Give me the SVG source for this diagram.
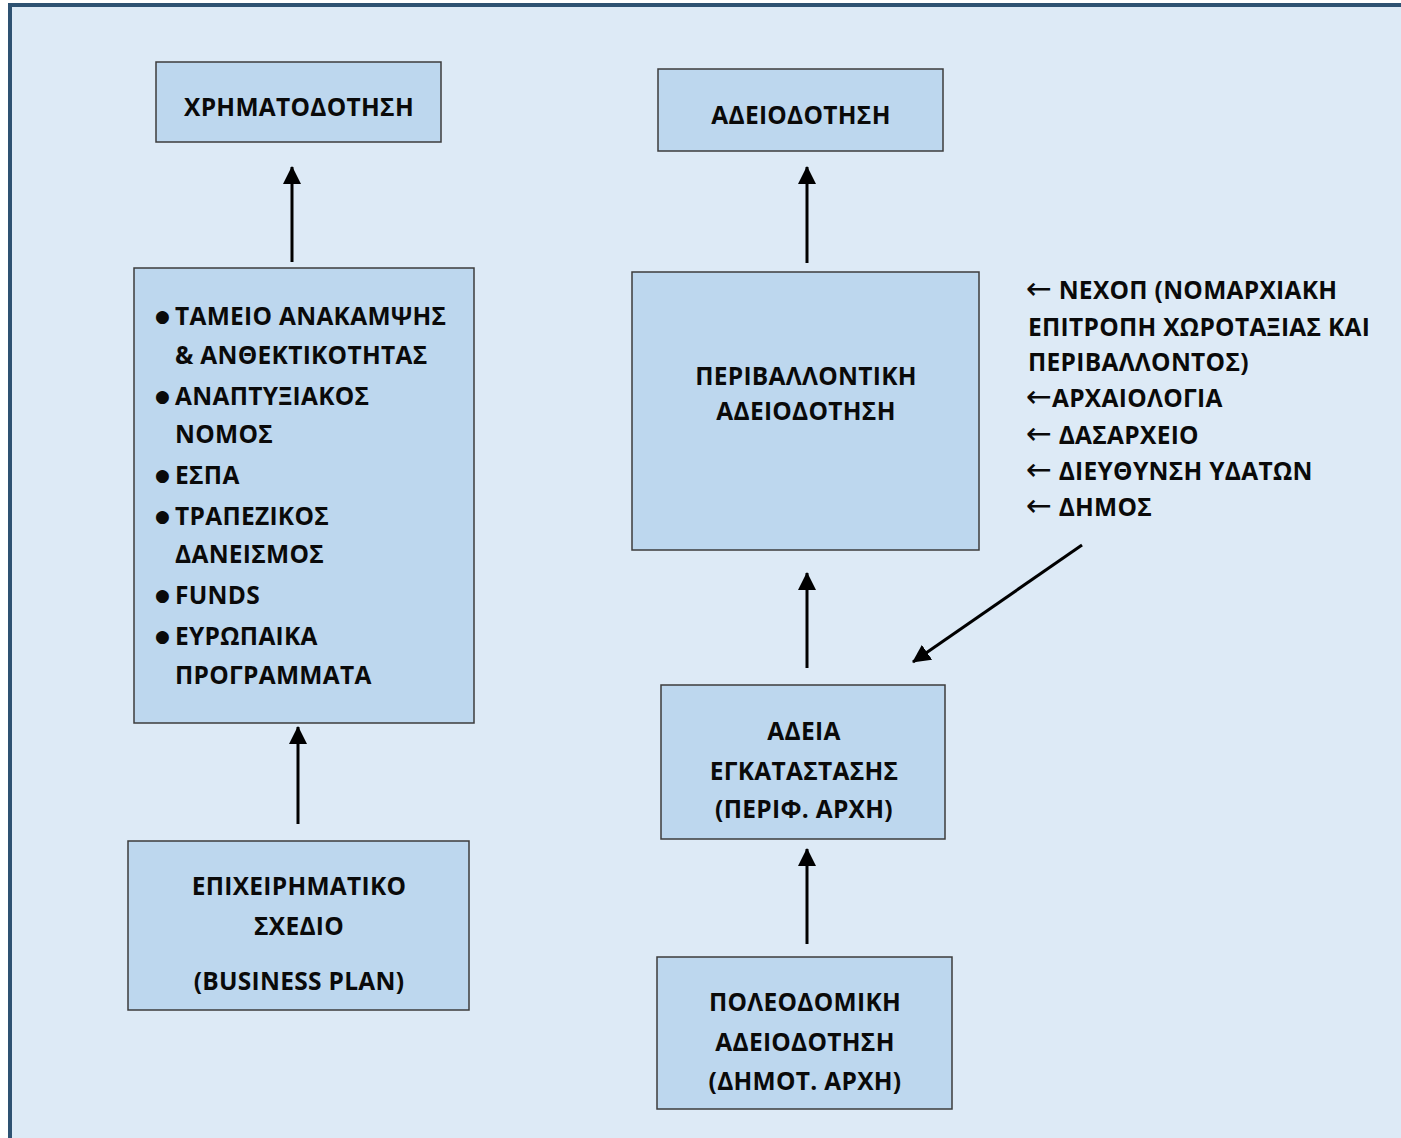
<svg xmlns="http://www.w3.org/2000/svg" width="1401" height="1138" viewBox="0 0 1401 1138">
<style>
.node rect{fill:#bdd7ee;stroke:#3c3c3c;stroke-width:1.5}
text{font-family:"Open Sans","Noto Sans","DejaVu Sans",sans-serif;font-weight:bold;font-size:24.5px;letter-spacing:0.3px;fill:#0a0a0a}
.c{text-anchor:middle}
.b{font-family:"DejaVu Sans",sans-serif;font-weight:normal;font-size:17px;letter-spacing:0}
.ar{font-family:"DejaVu Sans",sans-serif;font-weight:normal;font-size:31px;letter-spacing:0}
.conn line{stroke:#000;stroke-width:3}
</style>
<defs>
<marker id="ah" markerUnits="userSpaceOnUse" markerWidth="18" markerHeight="18" viewBox="0 0 18 18" refX="17" refY="9" orient="auto">
<path d="M0,0 L18,9 L0,18 Z" fill="#000"/>
</marker>
</defs>
<rect x="0" y="0" width="1401" height="1138" fill="#ffffff"/>
<rect x="10" y="5" width="1391" height="1133" fill="#ddeaf6"/>
<line x1="10" y1="5" x2="1401" y2="5" stroke="#2e5272" stroke-width="4"/>
<line x1="10" y1="3" x2="10" y2="1138" stroke="#2e5272" stroke-width="4"/>

<g class="conn">
<line x1="292" y1="262" x2="292" y2="167" marker-end="url(#ah)"/>
<line x1="298" y1="824" x2="298" y2="727" marker-end="url(#ah)"/>
<line x1="807" y1="263" x2="807" y2="167" marker-end="url(#ah)"/>
<line x1="807" y1="668" x2="807" y2="573" marker-end="url(#ah)"/>
<line x1="807" y1="944" x2="807" y2="849" marker-end="url(#ah)"/>
<line x1="1082" y1="545" x2="913" y2="662" marker-end="url(#ah)"/>
</g>

<g id="xrimatodotisi" class="node">
<rect x="156" y="62" width="285" height="80"/>
<text class="c" x="299" y="116">ΧΡΗΜΑΤΟΔΟΤΗΣΗ</text>
</g>

<g id="funding" class="node">
<rect x="134" y="268" width="340" height="455"/>
<text class="b" x="155" y="322">●</text>
<text x="175" y="325">ΤΑΜΕΙΟ ΑΝΑΚΑΜΨΗΣ</text>
<text x="175" y="364">&amp; ΑΝΘΕΚΤΙΚΟΤΗΤΑΣ</text>
<text class="b" x="155" y="402">●</text>
<text x="175" y="405">ΑΝΑΠΤΥΞΙΑΚΟΣ</text>
<text x="175" y="443">ΝΟΜΟΣ</text>
<text class="b" x="155" y="481">●</text>
<text x="175" y="484">ΕΣΠΑ</text>
<text class="b" x="155" y="522">●</text>
<text x="175" y="525">ΤΡΑΠΕΖΙΚΟΣ</text>
<text x="175" y="563">ΔΑΝΕΙΣΜΟΣ</text>
<text class="b" x="155" y="601">●</text>
<text x="175" y="604">FUNDS</text>
<text class="b" x="155" y="642">●</text>
<text x="175" y="645">ΕΥΡΩΠΑΙΚΑ</text>
<text x="175" y="684">ΠΡΟΓΡΑΜΜΑΤΑ</text>
</g>

<g id="business" class="node">
<rect x="128" y="841" width="341" height="169"/>
<text class="c" x="299" y="895">ΕΠΙΧΕΙΡΗΜΑΤΙΚΟ</text>
<text class="c" x="299" y="935">ΣΧΕΔΙΟ</text>
<text class="c" x="299" y="990">(BUSINESS PLAN)</text>
</g>

<g id="adeiodotisi" class="node">
<rect x="658" y="69" width="285" height="82"/>
<text class="c" x="801" y="124">ΑΔΕΙΟΔΟΤΗΣΗ</text>
</g>

<g id="periv" class="node">
<rect x="632" y="272" width="347" height="278"/>
<text class="c" x="806" y="385">ΠΕΡΙΒΑΛΛΟΝΤΙΚΗ</text>
<text class="c" x="806" y="420">ΑΔΕΙΟΔΟΤΗΣΗ</text>
</g>

<g id="adeia" class="node">
<rect x="661" y="685" width="284" height="154"/>
<text class="c" x="804" y="740">ΑΔΕΙΑ</text>
<text class="c" x="804" y="780">ΕΓΚΑΤΑΣΤΑΣΗΣ</text>
<text class="c" x="804" y="818">(ΠΕΡΙΦ. ΑΡΧΗ)</text>
</g>

<g id="poleodomiki" class="node">
<rect x="657" y="957" width="295" height="152"/>
<text class="c" x="805" y="1011">ΠΟΛΕΟΔΟΜΙΚΗ</text>
<text class="c" x="805" y="1051">ΑΔΕΙΟΔΟΤΗΣΗ</text>
<text class="c" x="805" y="1090">(ΔΗΜΟΤ. ΑΡΧΗ)</text>
</g>

<g id="agencies">
<text x="1026" y="299"><tspan class="ar">←</tspan> ΝΕΧΟΠ (ΝΟΜΑΡΧΙΑΚΗ</text>
<text x="1028" y="336">ΕΠΙΤΡΟΠΗ ΧΩΡΟΤΑΞΙΑΣ ΚΑΙ</text>
<text x="1028" y="371">ΠΕΡΙΒΑΛΛΟΝΤΟΣ)</text>
<text x="1026" y="407"><tspan class="ar">←</tspan>ΑΡΧΑΙΟΛΟΓΙΑ</text>
<text x="1026" y="444"><tspan class="ar">←</tspan> ΔΑΣΑΡΧΕΙΟ</text>
<text x="1026" y="480"><tspan class="ar">←</tspan> ΔΙΕΥΘΥΝΣΗ ΥΔΑΤΩΝ</text>
<text x="1026" y="516"><tspan class="ar">←</tspan> ΔΗΜΟΣ</text>
</g>
</svg>
